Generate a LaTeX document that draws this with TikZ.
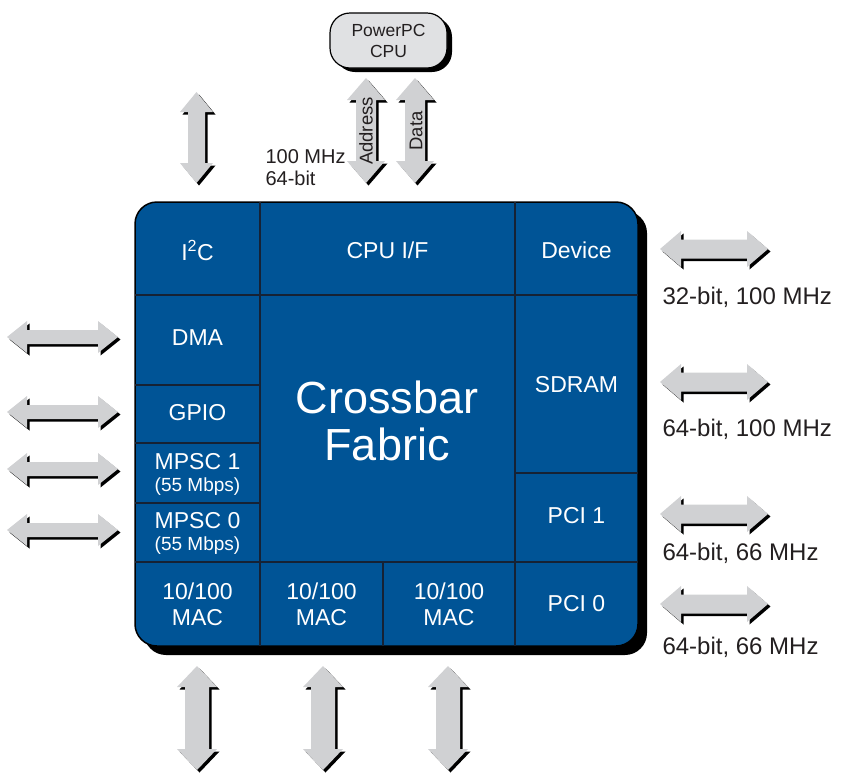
\documentclass[tikz,border=0pt]{standalone}
\usepackage{fontspec}
\setmainfont{Liberation Sans}
\usetikzlibrary{shadows}

\definecolor{chipblue}{RGB}{0,84,150}
\definecolor{busgray}{RGB}{208,209,211}
\definecolor{cpugray}{RGB}{224,225,227}
\definecolor{gridline}{RGB}{22,34,52}
\definecolor{ink}{RGB}{35,31,32}

% double block arrow: centre x, centre y, angle, half length, half head, half shaft, head length
\newcommand\busarrow[7]{%
  \foreach \dx/\col in {2.5/black,0/busgray}{
    \fill[\col, shift={({#1+\dx},{#2+\dx})}, rotate=#3]
      (-#4,0) -- ++(#7,-#5) -- ++(0,{#5-#6}) -- ({#4-#7},-#6) -- ++(0,{#6-#5}) -- (#4,0)
      -- ({#4-#7},#5) -- ++(0,{#6-#5}) -- ({-#4+#7},#6) -- ++(0,{#5-#6}) -- cycle;
  }%
}

\tikzset{
  chip/.style={fill=chipblue, draw=black, line width=1.5pt, rounded corners=22pt,
    minimum width=503pt, minimum height=444pt,
    general shadow={fill=black, shadow xshift=9pt, shadow yshift=-9pt}},
  cpubox/.style={fill=cpugray, draw=black, line width=1.2pt, rounded corners=20pt,
    minimum width=117pt, minimum height=55pt, align=center, text=ink,
    font=\fontsize{17.5}{21}\selectfont,
    general shadow={fill=black, shadow xshift=5pt, shadow yshift=-4pt}},
  grid/.style={draw=gridline, line width=1.3pt},
  blocklabel/.style={text=white, align=center, font=\fontsize{23}{26}\selectfont},
  buslabel/.style={text=ink, anchor=west, font=\fontsize{24}{26}\selectfont},
  arrowtext/.style={text=ink, rotate=90, font=\fontsize{18.5}{20}\selectfont}
}

\begin{document}
\begin{tikzpicture}[x=1pt, y=-1pt]
  \useasboundingbox (0,0) rectangle (843,772);

  % processor and its buses
  \node[cpubox] (cpu) at (388.5,40.5) {PowerPC\\CPU};
  \busarrow{366}{130.5}{90}{52.5}{19}{10}{22}
  \busarrow{415}{130.5}{90}{52.5}{19}{10}{22}
  \node[arrowtext] (addr) at (366,131) {Address};
  \node[arrowtext] (data) at (416,131) {Data};
  \busarrow{196.5}{137.5}{90}{45.5}{16.5}{8.5}{20}
  \node[text=ink, anchor=west, align=left, font=\fontsize{20}{22}\selectfont]
    (cpubus) at (262,168) {100 MHz\\64-bit};

  % the chip
  \node[chip] (chip) at (386.5,424) {};
  \draw[grid] (135,295) -- (638,295);
  \draw[grid] (135,562) -- (638,562);
  \draw[grid] (260,202) -- (260,646);
  \draw[grid] (515,202) -- (515,646);
  \draw[grid] (383,562) -- (383,646);
  \foreach \y in {385,443,503}
    \draw[grid] (135,\y) -- (260,\y);
  \draw[grid] (515,473) -- (638,473);

  \node[blocklabel] (i2c) at (197.5,250) {I\textsuperscript{2}C};
  \node[blocklabel] (cpuif) at (387.5,250) {CPU I/F};
  \node[blocklabel] (device) at (576.5,250) {Device};
  \node[blocklabel] (dma) at (197.5,338) {DMA};
  \node[blocklabel] (gpio) at (197.5,413) {GPIO};
  \node[blocklabel] (mpsc1) at (197.5,474)
    {MPSC 1\\[-4pt]{\fontsize{19}{21}\selectfont (55 Mbps)}};
  \node[blocklabel] (mpsc0) at (197.5,533)
    {MPSC 0\\[-4pt]{\fontsize{19}{21}\selectfont (55 Mbps)}};
  \node[blocklabel, font=\fontsize{45}{47}\selectfont] (crossbar) at (387,421)
    {Crossbar\\Fabric};
  \node[blocklabel] (sdram) at (576.5,385) {SDRAM};
  \node[blocklabel] (pci1) at (576.5,516) {PCI 1};
  \node[blocklabel] (pci0) at (576.5,604) {PCI 0};
  \node[blocklabel] (mac0) at (197.5,604) {10/100\\MAC};
  \node[blocklabel] (mac1) at (321.5,604) {10/100\\MAC};
  \node[blocklabel] (mac2) at (449,604) {10/100\\MAC};

  % left buses
  \foreach \y in {337,412,469,530}{
    \busarrow{62.5}{\y}{0}{55.5}{16}{7}{20}
  }

  % right buses
  \foreach \y in {249,382,514,604}{
    \busarrow{714}{\y}{0}{54}{18}{9.5}{21}
  }
  \node[buslabel] (dev bus) at (659,297) {32-bit, 100 MHz};
  \node[buslabel] (sdram bus) at (659,429) {64-bit, 100 MHz};
  \node[buslabel] (pci1 bus) at (659,553) {64-bit, 66 MHz};
  \node[buslabel] (pci0 bus) at (659,647) {64-bit, 66 MHz};

  % bottom buses
  \foreach \x in {197,323,448}{
    \busarrow{\x}{718}{90}{52}{20}{12}{21}
  }
\end{tikzpicture}
\end{document}
